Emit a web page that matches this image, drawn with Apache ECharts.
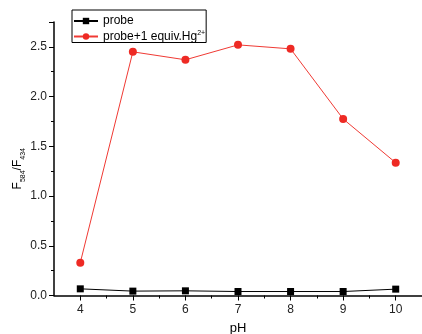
<!DOCTYPE html>
<html>
<head>
<meta charset="utf-8">
<script src="https://cdn.jsdelivr.net/npm/echarts@6/dist/echarts.min.js"></script>
<style>html,body{margin:0;padding:0;background:#fff}#c{width:422px;height:334px}</style>
</head>
<body>
<div id="c"></div>
<script>
const pH = [4, 5, 6, 7, 8, 9, 10];
const probe = [0.067, 0.044, 0.047, 0.040, 0.040, 0.040, 0.064];
const probeHg = [0.33, 2.45, 2.37, 2.52, 2.48, 1.775, 1.335];
const xTicks = [4, 5, 6, 7, 8, 9, 10];
const xMinorTicks = [4.5, 5.5, 6.5, 7.5, 8.5, 9.5];
const seriesNames = ['probe', 'probe+1 equiv.Hg'];

const chart = echarts.init(document.getElementById('c'), null, {renderer: 'canvas'});
const font = 'Liberation Sans, Arial, sans-serif';
const axisCommon = {
  axisLine: {show: true, lineStyle: {color: '#000', width: 1.5}},
  splitLine: {show: false}
};
chart.setOption({
  animation: false,
  backgroundColor: '#fff',
  textStyle: {fontFamily: font},
  grid: {left: 54, right: 0, top: 22, bottom: 38.5, containLabel: false, outerBoundsMode: 'none'},
  legend: {
    left: 72, top: 10,
    orient: 'vertical',
    padding: [5, 1, 0, 1],
    itemGap: 3,
    itemWidth: 24, itemHeight: 8,
    borderColor: '#000', borderWidth: 1, borderRadius: 0,
    textStyle: {fontSize: 12, color: '#000', fontFamily: font,
      rich: {sup: {fontSize: 7, color: '#000', verticalAlign: 'top', padding: [0, 0, 6, 0], fontFamily: font}}},
    formatter: function (n) { return n === seriesNames[1] ? n + '{sup|2+}' : n; },
    data: seriesNames
  },
  xAxis: [{
    type: 'value', min: 3.5, max: 10.5,
    ...axisCommon,
    axisTick: {show: true, inside: false, length: 5, lineStyle: {color: '#000', width: 1}, customValues: xTicks},
    axisLabel: {customValues: xTicks, color: '#222', fontSize: 12, margin: 8, fontFamily: font},
    name: 'pH', nameLocation: 'middle', nameGap: 26, nameMoveOverlap: false,
    nameTextStyle: {fontSize: 13, color: '#000', fontFamily: font}
  }, {
    type: 'value', min: 3.5, max: 10.5, position: 'bottom',
    axisLine: {show: false},
    axisTick: {show: true, length: 3, lineStyle: {color: '#000', width: 1}, customValues: xMinorTicks},
    axisLabel: {show: false},
    splitLine: {show: false}
  }],
  yAxis: {
    type: 'value', min: 0, max: 2.75, interval: 0.5,
    ...axisCommon,
    axisTick: {show: true, length: 5, lineStyle: {color: '#000', width: 1}},
    minorTick: {show: true, splitNumber: 2, length: 3, lineStyle: {color: '#000', width: 1}},
    axisLabel: {color: '#222', fontSize: 12, margin: 7, fontFamily: font,
      formatter: function (v) { return v.toFixed(1); },
      showMaxLabel: false},
    name: '{n|F}{s|584}{n|/F}{s|434}',
    nameLocation: 'middle', nameGap: 27, nameRotate: 90, nameMoveOverlap: false,
    nameTextStyle: {
      padding: [0, 20, 0, 0],
      rich: {
        n: {fontSize: 12, color: '#000', fontFamily: font, lineHeight: 18, verticalAlign: 'middle'},
        s: {fontSize: 7, color: '#000', fontFamily: font, lineHeight: 18, verticalAlign: 'bottom', padding: [8, 0, 0, 0]}
      }
    }
  },
  series: [{
    name: seriesNames[0], type: 'line',
    data: pH.map((x, i) => [x, probe[i]]),
    symbol: 'rect', symbolSize: 7,
    itemStyle: {color: '#000'},
    lineStyle: {color: '#000', width: 1},
    z: 3
  }, {
    name: seriesNames[1], type: 'line',
    data: pH.map((x, i) => [x, probeHg[i]]),
    symbol: 'circle', symbolSize: 8,
    itemStyle: {color: '#ee2a24'},
    lineStyle: {color: '#f03a34', width: 1},
    z: 2
  }]
});
</script>
</body>
</html>
